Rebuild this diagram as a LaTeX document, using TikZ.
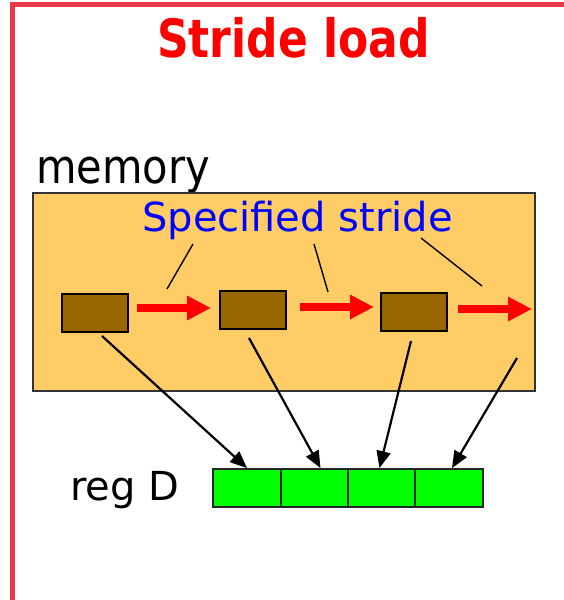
\documentclass[tikz,border=0pt]{standalone}
\usepackage{fontspec}
\setmainfont{DejaVu Sans}
\usetikzlibrary{arrows.meta,calc}
\definecolor{framered}{RGB}{232,56,72}
\definecolor{memfill}{RGB}{255,204,102}
\definecolor{cellbrown}{RGB}{153,102,0}
\definecolor{reggreen}{RGB}{0,255,0}
\tikzset{
  lbl/.style={inner sep=0pt, anchor=base west, font=\fontsize{40}{48}\selectfont},
  elem/.style={draw=black, line width=2pt, fill=cellbrown, minimum width=66pt, minimum height=38pt, inner sep=0pt},
  regcell/.style={draw=black!85, line width=1.8pt, fill=reggreen, minimum width=67.5pt, minimum height=38pt, inner sep=0pt},
  stridearrow/.style={draw=red, line width=8pt, -{Triangle[length=24pt,width=23pt]}},
  loadarrow/.style={draw=black, line width=2.2pt, -{Triangle[length=17pt,width=14pt]}},
  callout/.style={draw=black, line width=1.4pt},
}
\begin{document}
\begin{tikzpicture}[x=1pt,y=-1pt]
\useasboundingbox (0,0) rectangle (563,600);
\fill[white] (0,0) rectangle (563,600);
\draw[framered, line width=5pt] (12.5,610) -- (12.5,4.5) -- (575,4.5);

\node[inner sep=0pt, anchor=base, text=red, font=\fontsize{44}{52}\selectfont\bfseries] (title) at (293.5,57) {\scalebox{1}[1.2]{Stride load}};

\node[lbl] (memlabel) at (36,183) {\scalebox{1.04}[1.18]{memory}};
\node[draw=black!80, line width=1.2pt, fill=memfill, minimum width=502pt, minimum height=198pt, inner sep=0pt] (mem) at (284,292) {};
\node[lbl, text=blue] (stride) at (142,231) {Specified stride};

\node[elem] (b1) at (95,313) {};
\node[elem] (b2) at (253,310) {};
\node[elem] (b3) at (414,312) {};

\coordinate (r1s) at (137,308); \coordinate (r1e) at (211,308);
\coordinate (r2s) at (300,307); \coordinate (r2e) at (374,307);
\coordinate (r3s) at (458,309); \coordinate (r3e) at (532,309);
\draw[stridearrow] (r1s) -- (r1e);
\draw[stridearrow] (r2s) -- (r2e);
\draw[stridearrow] (r3s) -- (r3e);

\coordinate (k1a) at (193,244); \coordinate (k1b) at (167,289);
\coordinate (k2a) at (314,244); \coordinate (k2b) at (328,292);
\coordinate (k3a) at (421,238); \coordinate (k3b) at (482,286);
\draw[callout] (k1a) -- (k1b);
\draw[callout] (k2a) -- (k2b);
\draw[callout] (k3a) -- (k3b);

\node[lbl] (reglabel) at (70,500) {reg D};
\node[regcell] (c1) at (247,488) {};
\node[regcell] (c2) at (314.5,488) {};
\node[regcell] (c3) at (381.5,488) {};
\node[regcell] (c4) at (449,488) {};

\coordinate (l1) at (102,336);
\coordinate (l2) at (249,338);
\coordinate (l3) at (411,341);
\coordinate (l4) at (517,358);
\draw[loadarrow] (l1) -- (c1.north);
\draw[loadarrow] (l2) -- ([xshift=6pt]c2.north);
\draw[loadarrow] (l3) -- ([xshift=-2pt]c3.north);
\draw[loadarrow] (l4) -- ([xshift=3pt]c4.north);
\end{tikzpicture}
\end{document}
